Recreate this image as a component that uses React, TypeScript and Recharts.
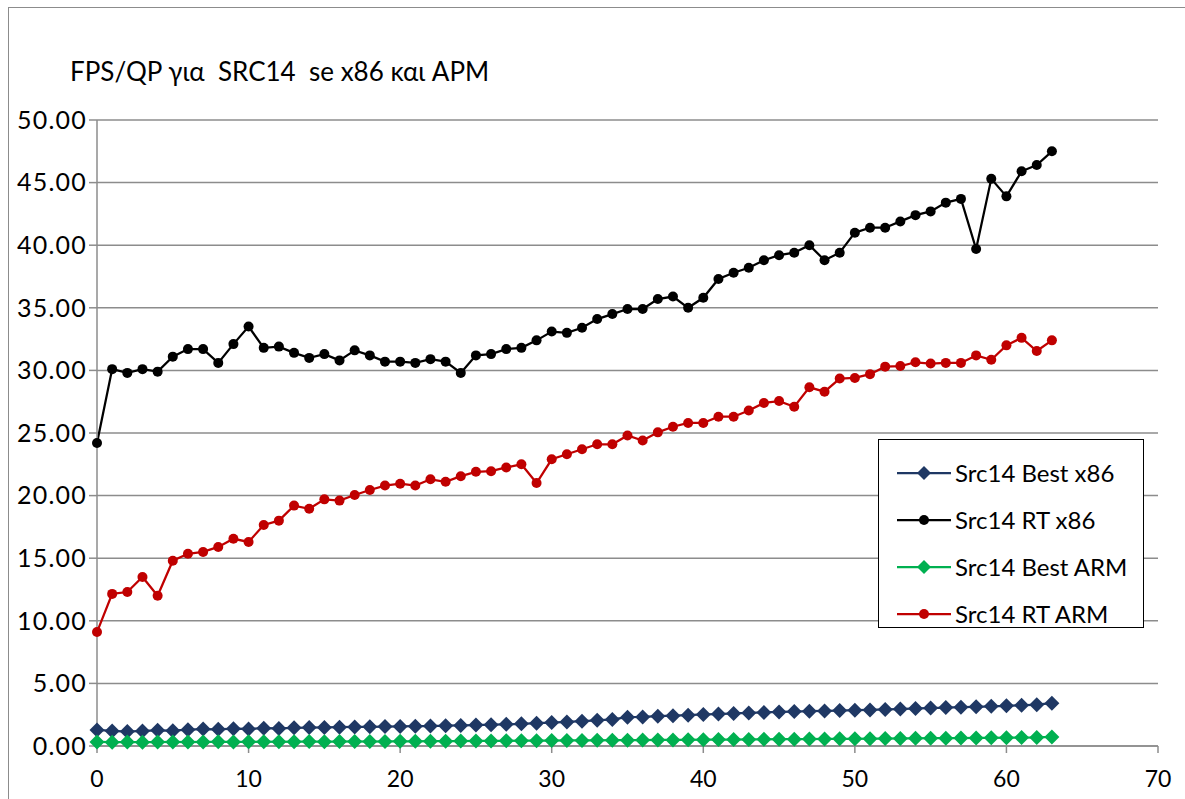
import React from "react";
import { LineChart, Line, XAxis, YAxis, CartesianGrid, Legend } from "recharts";

const qp: number[] = Array.from({ length: 64 }, (_, i) => i);

const bestX86: number[] = [
  1.28, 1.2, 1.15, 1.2, 1.25, 1.22, 1.3, 1.35, 1.33, 1.38, 1.36, 1.42, 1.4, 1.45, 1.47, 1.48,
  1.5, 1.52, 1.53, 1.55, 1.56, 1.58, 1.59, 1.62, 1.64, 1.67, 1.7, 1.73, 1.77, 1.82, 1.87, 1.92,
  1.98, 2.05, 2.12, 2.3, 2.32, 2.38, 2.42, 2.46, 2.52, 2.55, 2.6, 2.64, 2.68, 2.72, 2.75, 2.78,
  2.8, 2.83, 2.86, 2.88, 2.92, 2.95, 3.0, 3.03, 3.07, 3.1, 3.13, 3.17, 3.21, 3.25, 3.3, 3.42,
];

const rtX86: number[] = [
  24.2, 30.1, 29.8, 30.1, 29.9, 31.1, 31.7, 31.7, 30.6, 32.1, 33.5, 31.8, 31.9, 31.4, 31.0, 31.3,
  30.8, 31.6, 31.2, 30.7, 30.7, 30.6, 30.9, 30.7, 29.8, 31.2, 31.3, 31.7, 31.8, 32.4, 33.1, 33.0,
  33.4, 34.1, 34.5, 34.9, 34.9, 35.7, 35.9, 35.0, 35.8, 37.3, 37.8, 38.2, 38.8, 39.2, 39.4, 40.0,
  38.8, 39.4, 41.0, 41.4, 41.4, 41.9, 42.4, 42.7, 43.4, 43.7, 39.7, 45.3, 43.9, 45.9, 46.4, 47.5,
];

const bestArm: number[] = [
  0.32, 0.3, 0.31, 0.3, 0.31, 0.32, 0.31, 0.32, 0.33, 0.32, 0.33, 0.34, 0.33, 0.34, 0.35, 0.34,
  0.35, 0.36, 0.35, 0.36, 0.37, 0.37, 0.38, 0.38, 0.39, 0.4, 0.4, 0.41, 0.42, 0.42, 0.43, 0.44,
  0.44, 0.45, 0.46, 0.46, 0.47, 0.48, 0.48, 0.49, 0.5, 0.51, 0.51, 0.52, 0.53, 0.54, 0.54, 0.55,
  0.56, 0.57, 0.57, 0.58, 0.59, 0.6, 0.61, 0.62, 0.62, 0.63, 0.64, 0.65, 0.66, 0.67, 0.68, 0.72,
];

const rtArm: number[] = [
  9.1, 12.15, 12.3, 13.5, 12.0, 14.8, 15.35, 15.5, 15.9, 16.55, 16.3, 17.65, 18.0, 19.2, 18.95, 19.7,
  19.6, 20.05, 20.45, 20.8, 20.95, 20.8, 21.3, 21.1, 21.55, 21.9, 21.95, 22.25, 22.5, 21.0, 22.9, 23.3,
  23.7, 24.1, 24.1, 24.8, 24.4, 25.05, 25.5, 25.8, 25.8, 26.3, 26.3, 26.8, 27.4, 27.55, 27.1, 28.65,
  28.3, 29.35, 29.4, 29.7, 30.3, 30.35, 30.65, 30.55, 30.6, 30.6, 31.2, 30.85, 32.0, 32.6, 31.55, 32.4,
];

const xTicks: number[] = [0, 10, 20, 30, 40, 50, 60, 70];
const yTicks: number[] = [0, 5, 10, 15, 20, 25, 30, 35, 40, 45, 50];

const seriesNames = ["Src14 Best x86", "Src14 RT x86", "Src14 Best ARM", "Src14 RT ARM"];
const seriesKeys = ["bestX86", "rtX86", "bestArm", "rtArm"];
const seriesColors = ["#1F3864", "#000000", "#00B050", "#C00000"];
const seriesShapes = ["diamond", "circle", "diamond", "circle"];

const rows = qp.map((q, i) => ({
  qp: q,
  bestX86: bestX86[i],
  rtX86: rtX86[i],
  bestArm: bestArm[i],
  rtArm: rtArm[i],
}));

const FONT = "Lato, 'Open Sans', sans-serif";
const GRID = "#8C8C8C";

const makeDiamond = (color: string, s: number) => (props: any) => {
  const { cx, cy, index } = props;
  if (cx == null || cy == null) return <g key={`d-${index}`} />;
  return (
    <path
      key={`d-${index}`}
      d={`M${cx},${cy - s} L${cx + s},${cy} L${cx},${cy + s} L${cx - s},${cy} Z`}
      fill={color}
      stroke="none"
    />
  );
};

const makeCircle = (color: string, r: number) => (props: any) => {
  const { cx, cy, index } = props;
  if (cx == null || cy == null) return <g key={`c-${index}`} />;
  return <circle key={`c-${index}`} cx={cx} cy={cy} r={r} fill={color} stroke="none" />;
};

const LegendBox = () => (
  <div
    style={{
      width: 266,
      height: 189,
      boxSizing: "border-box",
      border: "1.5px solid #000",
      background: "#fff",
      paddingTop: 9,
      fontFamily: FONT,
    }}
  >
    {seriesNames.map((name, i) => (
      <div key={name} style={{ display: "flex", alignItems: "center", height: 47 }}>
        <svg width={76} height={20} style={{ marginLeft: 18 }}>
          <line x1={0} y1={10} x2={54} y2={10} stroke={seriesColors[i]} strokeWidth={2.25} />
          {seriesShapes[i] === "diamond" ? (
            <path d="M27,3 L34,10 L27,17 L20,10 Z" fill={seriesColors[i]} />
          ) : (
            <circle cx={27} cy={10} r={5} fill={seriesColors[i]} />
          )}
        </svg>
        <span style={{ fontSize: 24, color: "#000", marginLeft: -18, whiteSpace: "pre" }}>{name}</span>
      </div>
    ))}
  </div>
);

export default function App() {
  return (
    <div style={{ position: "absolute", left: 0, top: 0, width: 1185, height: 799, background: "#fff", overflow: "hidden" }}>
      <div
        style={{
          position: "absolute",
          left: 8,
          top: 7,
          width: 1185,
          height: 799,
          borderLeft: `1.5px solid ${GRID}`,
          borderTop: `1.5px solid ${GRID}`,
        }}
      />
      <div
        style={{
          position: "absolute",
          left: 70,
          top: 55,
          fontFamily: FONT,
          fontSize: 26,
          color: "#000",
          whiteSpace: "pre",
        }}
      >
        {"FPS/QP για  SRC14  se x86 και APM"}
      </div>
      <div style={{ position: "absolute", left: 0, top: 0 }}>
        <LineChart width={1185} height={799} data={rows} margin={{ top: 120, right: 27, bottom: 0, left: 0 }}>
          <CartesianGrid horizontal vertical={false} stroke={GRID} strokeWidth={1.5} />
          <XAxis
            dataKey="qp"
            type="number"
            domain={[0, 70]}
            ticks={xTicks}
            height={53}
            stroke={GRID}
            strokeWidth={1.5}
            tickSize={7}
            tickMargin={18}
            tick={{ fontFamily: FONT, fontSize: 23, fill: "#000" }}
            interval={0}
            allowDecimals={false}
          />
          <YAxis
            type="number"
            domain={[0, 50]}
            ticks={yTicks}
            width={97}
            stroke={GRID}
            strokeWidth={1.5}
            tickSize={8}
            tickMargin={2}
            tick={{ fontFamily: FONT, fontSize: 25, fill: "#000", letterSpacing: 1.2 }}
            tickFormatter={(v: number) => v.toFixed(2)}
            interval={0}
          />
          <Legend
            layout="vertical"
            align="center"
            verticalAlign="middle"
            wrapperStyle={{ position: "absolute", left: 878, top: 439, width: 266, height: 189 }}
            content={() => <LegendBox />}
          />
          {seriesKeys.map((k, i) => (
            <Line
              key={k}
              type="linear"
              dataKey={k}
              name={seriesNames[i]}
              stroke={seriesColors[i]}
              strokeWidth={2.25}
              isAnimationActive={false}
              dot={seriesShapes[i] === "diamond" ? makeDiamond(seriesColors[i], 7.5) : makeCircle(seriesColors[i], 5)}
              activeDot={false}
            />
          ))}
        </LineChart>
      </div>
    </div>
  );
}
